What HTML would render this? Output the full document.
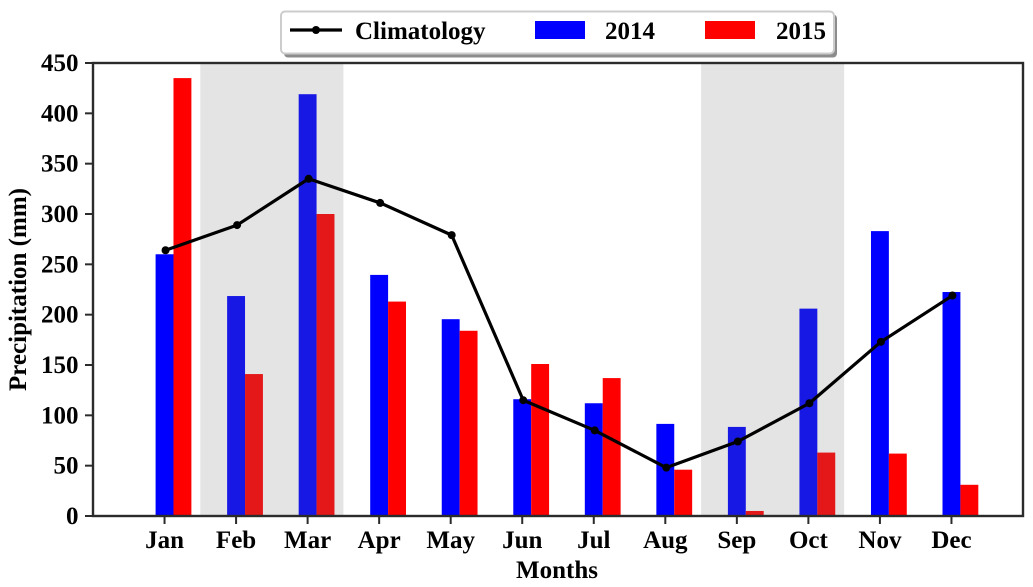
<!DOCTYPE html>
<html>
<head>
<meta charset="utf-8">
<title>Monthly precipitation</title>
<style>
html,body{margin:0;padding:0;background:#fff;width:1033px;height:587px;overflow:hidden}
svg{display:block}
text{font-family:"Liberation Serif",serif;font-weight:bold;fill:#000}
</style>
</head>
<body>
<svg id="chart" width="1033" height="587" viewBox="0 0 1033 587" xmlns="http://www.w3.org/2000/svg">
  <g id="bars-2014"></g>
  <g id="bars-2015"></g>
  <g id="spans"></g>
  <polyline id="clim-line" fill="none" stroke="#000" stroke-width="3.2" stroke-linejoin="round"></polyline>
  <g id="clim-points"></g>
  <rect x="93" y="63" width="930" height="453" fill="none" stroke="#2b2b2b" stroke-width="2.4"></rect>
  <g id="x-axis"></g>
  <g id="y-axis"></g>
  <text x="557" y="578" font-size="25" text-anchor="middle">Months</text>
  <text transform="translate(26 289.5) rotate(-90)" font-size="25" text-anchor="middle">Precipitation (mm)</text>
  <g>
    <rect x="284" y="14.5" width="553" height="43" rx="4" fill="#8c8c8c"></rect>
    <rect x="281" y="11.5" width="553" height="42" rx="4" fill="#fff" stroke="#cccccc" stroke-width="2"></rect>
    <line x1="290" y1="30" x2="342" y2="30" stroke="#000" stroke-width="3.2"></line>
    <circle cx="316" cy="30" r="4" fill="#000"></circle>
    <text x="355" y="39" font-size="25">Climatology</text>
    <rect x="535" y="21" width="50" height="18" fill="#0000ff"></rect>
    <text x="605" y="39" font-size="25">2014</text>
    <rect x="705" y="21" width="50" height="18" fill="#ff0000"></rect>
    <text x="776" y="39" font-size="25">2015</text>
  </g>
</svg>
<script>
const months = ["Jan","Feb","Mar","Apr","May","Jun","Jul","Aug","Sep","Oct","Nov","Dec"];
const values2014 = [260,218.5,419,239.5,195.5,116,112,91.5,88.5,206,283,222.5];
const values2015 = [435,141,300,213,184,151,137,46,5,63,62,31];
const climatology = [264,289,335,311,279,115,85,48,74,112,173,219];
const yTicks = [0,50,100,150,200,250,300,350,400,450];
const spanRanges = [[0.5,2.5],[7.5,9.5]];

const NS = "http://www.w3.org/2000/svg";
const plot = {left:93, right:1023, top:63, bottom:516, xMin:-1, xMax:12, yMin:0, yMax:450};
const barW = 17.9;
function xScale(v){ return plot.left + (v - plot.xMin) / (plot.xMax - plot.xMin) * (plot.right - plot.left); }
function yScale(v){ return plot.bottom - (v - plot.yMin) / (plot.yMax - plot.yMin) * (plot.bottom - plot.top); }
function make(tag, attrs, parentId){
  const el = document.createElementNS(NS, tag);
  for (const k in attrs) el.setAttribute(k, attrs[k]);
  document.getElementById(parentId).appendChild(el);
  return el;
}

values2014.forEach(function(v, i){
  const el = make("rect", {x: xScale(i) - barW / 2, y: yScale(v), width: barW, height: yScale(0) - yScale(v), fill: "#0000ff"}, "bars-2014");
  
  
});
values2015.forEach(function(v, i){
  const el = make("rect", {x: xScale(i) + barW / 2, y: yScale(v), width: barW, height: yScale(0) - yScale(v), fill: "#ff0000"}, "bars-2015");
  
  
});
spanRanges.forEach(function(r){
  const el = make("rect", {x: xScale(r[0]), y: plot.top, width: xScale(r[1]) - xScale(r[0]), height: plot.bottom - plot.top, fill: "#7a7a7a", "fill-opacity": 0.2}, "spans");
  
  
});
document.getElementById("clim-line").setAttribute("points", climatology.map(function(v, i){ return (xScale(i) + 1) + "," + yScale(v); }).join(" "));
climatology.forEach(function(v, i){
  const el = make("circle", {cx: xScale(i) + 1, cy: yScale(v), r: 4, fill: "#000"}, "clim-points");
  
  
});
months.forEach(function(m, i){
  const tick = make("line", {x1: xScale(i), x2: xScale(i), y1: plot.bottom, y2: plot.bottom + 8, stroke: "#2b2b2b", "stroke-width": 2}, "x-axis");
  
  
  const label = make("text", {x: xScale(i), y: 548, "font-size": 25, "text-anchor": "middle"}, "x-axis");
  
  
  label.textContent = m;
});
yTicks.forEach(function(v){
  const tick = make("line", {x1: plot.left - 8, x2: plot.left, y1: yScale(v), y2: yScale(v), stroke: "#2b2b2b", "stroke-width": 2}, "y-axis");
  
  
  const label = make("text", {x: 78.5, y: yScale(v) + 8, "font-size": 25, "text-anchor": "end"}, "y-axis");
  
  
  label.textContent = v;
});
</script>
</body>
</html>
